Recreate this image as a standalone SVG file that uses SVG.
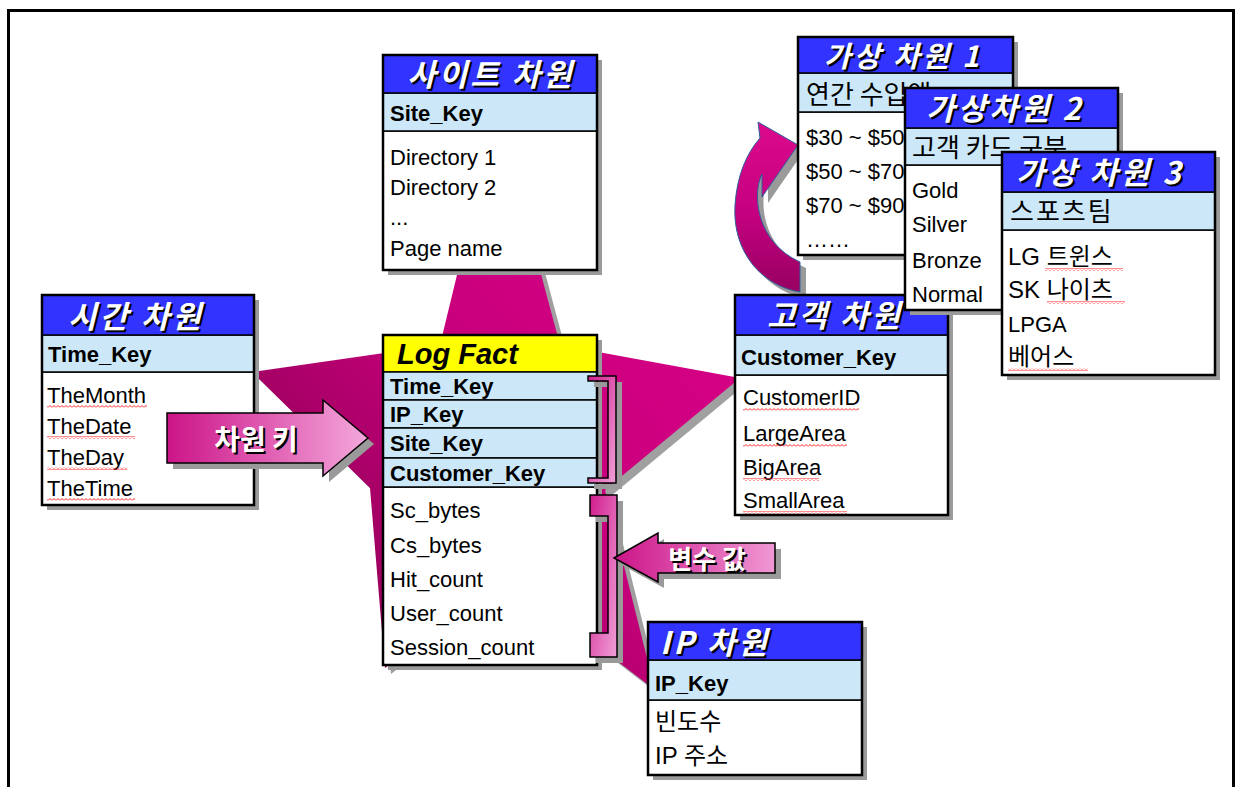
<svg xmlns="http://www.w3.org/2000/svg" width="1239" height="787" viewBox="0 0 1239 787">
<defs>
<style>
.sh{fill:#9a9a9a}
.hdr{fill:#3333ff;stroke:#000;stroke-width:1.5}
.key{fill:#cce8f8;stroke:#000;stroke-width:1.5}
.bd{fill:#fff;stroke:#000;stroke-width:1.5}
.frm{fill:none;stroke:#000;stroke-width:2.5}
.ht{font-family:"Noto Sans CJK KR",sans-serif;font-weight:bold;font-style:italic;font-size:31px;fill:#fff;letter-spacing:3px}
.hs{font-family:"Noto Sans CJK KR",sans-serif;font-weight:bold;font-style:italic;font-size:31px;fill:#000;letter-spacing:3px}
.kt{font-family:"Liberation Sans",Arial,sans-serif;font-weight:bold;font-size:22px;fill:#000}
.kk{font-family:"Noto Sans CJK KR",sans-serif;font-size:26px;fill:#000}
.bt{font-family:"Liberation Sans","Noto Sans CJK KR",Arial,sans-serif;font-size:22px;fill:#000}
.bk{font-family:"Liberation Sans","Noto Sans CJK KR",sans-serif;font-size:24px;fill:#000}
.at{font-family:"Noto Sans CJK KR",sans-serif;font-weight:bold;font-size:28px;fill:#fff}
.as{font-family:"Noto Sans CJK KR",sans-serif;font-weight:bold;font-size:28px;fill:#000}
.wv{fill:url(#wave)}
</style>
<pattern id="wave" x="0" y="0" width="4" height="3" patternUnits="userSpaceOnUse">
<path d="M0 2.5 L2 0.5 L4 2.5" fill="none" stroke="#ff2020" stroke-width="1"/>
</pattern>
<linearGradient id="starG" x1="1" y1="0" x2="0" y2="1">
<stop offset="0" stop-color="#e0008c"/>
<stop offset="0.5" stop-color="#c8007c"/>
<stop offset="1" stop-color="#7a0048"/>
</linearGradient>
<linearGradient id="arrG" x1="0" y1="0" x2="1" y2="0">
<stop offset="0" stop-color="#cc1488"/>
<stop offset="1" stop-color="#f4a8dc"/>
</linearGradient>
<linearGradient id="arrG2" x1="0" y1="0" x2="1" y2="0">
<stop offset="0" stop-color="#cc1488"/>
<stop offset="1" stop-color="#f098d4"/>
</linearGradient>
<linearGradient id="brG" x1="0" y1="0" x2="1" y2="1">
<stop offset="0" stop-color="#d01c8c"/>
<stop offset="1" stop-color="#f0a0d8"/>
</linearGradient>
<linearGradient id="curG" x1="0" y1="0" x2="0" y2="1">
<stop offset="0" stop-color="#dc0a8c"/>
<stop offset="0.55" stop-color="#c40080"/>
<stop offset="1" stop-color="#960060"/>
</linearGradient>
</defs>

<rect x="8.5" y="10.5" width="1225" height="800" fill="#fff" stroke="#000" stroke-width="3"/>

<g id="connectors">
<g id="star">
<polygon points="503,116 566,351 746,384 611,496 661,696 511,581 391,674 376,494 258,378 446,351" fill="#a0a0a0"/>
<polygon points="497,110 560,345 740,378 605,490 655,690 505,575 385,668 370,488 252,372 440,345" fill="url(#starG)"/>
</g>
<g id="curved-arrow">
<path d="M806,298 C768,292 738,258 741,211 C743,182 752,160 766,144 L764,128 L804,151 L768,203 L768,180 C758,200 762,248 806,268 Z" fill="#9a9a9a"/>
<path d="M800,292 C762,286 732,252 735,205 C737,176 746,154 760,138 L758,122 L798,145 L762,197 L762,174 C752,194 756,242 800,262 Z" fill="url(#curG)" stroke="#2f5f9f" stroke-width="1"/>
</g>
</g>

<g id="site-dim">
<rect class="sh" x="388" y="60" width="214" height="215"/>
<rect class="bd" x="383" y="131" width="214" height="139"/>
<rect class="key" x="383" y="93" width="214" height="38"/>
<rect class="hdr" x="383" y="55" width="214" height="38"/>
<text class="hs" x="493" y="88" text-anchor="middle">사이트 차원</text>
<text class="ht" x="491" y="86" text-anchor="middle">사이트 차원</text>
<text class="kt" x="390" y="121">Site_Key</text>
<text class="bt" x="390" y="165">Directory 1</text>
<text class="bt" x="390" y="195">Directory 2</text>
<text class="bt" x="390" y="225">...</text>
<text class="bt" x="390" y="256">Page name</text>
<rect class="frm" x="383" y="55" width="214" height="215"/>
</g>

<g id="time-dim">
<rect class="sh" x="47" y="300" width="212" height="210"/>
<rect class="bd" x="42" y="372" width="212" height="133"/>
<rect class="key" x="42" y="335" width="212" height="37"/>
<rect class="hdr" x="42" y="295" width="212" height="40"/>
<text class="hs" x="138" y="330" text-anchor="middle">시간 차원</text>
<text class="ht" x="136" y="328" text-anchor="middle">시간 차원</text>
<text class="kt" x="48" y="362">Time_Key</text>
<text class="bt" x="47" y="403">TheMonth</text>
<text class="bt" x="47" y="434">TheDate</text>
<text class="bt" x="47" y="465">TheDay</text>
<text class="bt" x="47" y="496">TheTime</text>
<rect class="wv" x="47" y="405" width="100" height="3"/>
<rect class="wv" x="47" y="436" width="88" height="3"/>
<rect class="wv" x="47" y="467" width="80" height="3"/>
<rect class="wv" x="47" y="498" width="88" height="3"/>
<rect class="frm" x="42" y="295" width="212" height="210"/>
</g>

<g id="log-fact">
<rect class="sh" x="388" y="340" width="214" height="330"/>
<rect class="bd" x="383" y="487" width="214" height="178"/>
<rect x="383" y="335" width="214" height="37" fill="#ffff00" stroke="#000" stroke-width="1.5"/>
<rect class="key" x="383" y="372" width="214" height="28"/>
<rect class="key" x="383" y="400" width="214" height="28"/>
<rect class="key" x="383" y="428" width="214" height="30"/>
<rect class="key" x="383" y="458" width="214" height="29"/>
<text x="397" y="364" style="font-family:'Liberation Sans',Arial,sans-serif;font-weight:bold;font-style:italic;font-size:29px;fill:#000">Log Fact</text>
<text class="kt" x="390" y="394">Time_Key</text>
<text class="kt" x="390" y="422">IP_Key</text>
<text class="kt" x="390" y="451">Site_Key</text>
<text class="kt" x="390" y="481">Customer_Key</text>
<text class="bt" x="390" y="518">Sc_bytes</text>
<text class="bt" x="390" y="553">Cs_bytes</text>
<text class="bt" x="390" y="587">Hit_count</text>
<text class="bt" x="390" y="621">User_count</text>
<text class="bt" x="390" y="655">Session_count</text>
<rect class="frm" x="383" y="335" width="214" height="330"/>
</g>

<g id="key-bracket">
<path d="M594,382 L622,382 L622,489 L594,489 L594,484 L614,484 L614,387 L594,387 Z" fill="#9a9a9a"/>
<path d="M588,376 L616,376 L616,483 L588,483 L588,478 L608,478 L608,381 L588,381 Z" fill="url(#brG)" stroke="#000" stroke-width="1.5"/>
</g>
<g id="value-bracket">
<path d="M596,501 L623,501 L623,663 L596,663 L596,639 L614,639 L614,522 L596,522 Z" fill="#9a9a9a"/>
<path d="M590,495 L617,495 L617,657 L590,657 L590,633 L608,633 L608,516 L590,516 Z" fill="url(#brG)" stroke="#000" stroke-width="1.5"/>
</g>

<g id="arrow-dimkey">
<polygon points="173,419 329,419 329,406 374,444 329,482 329,469 173,469" fill="#9a9a9a"/>
<polygon points="167,413 323,413 323,400 368,438 323,476 323,463 167,463" fill="url(#arrG)" stroke="#000" stroke-width="1.5"/>
<text class="as" x="258" y="452" text-anchor="middle">차원 키</text>
<text class="at" x="256" y="450" text-anchor="middle">차원 키</text>
</g>

<g id="arrow-value">
<polygon points="620,564 664,539 664,549 781,549 781,579 664,579 664,588" fill="#9a9a9a"/>
<polygon points="614,558 658,533 658,543 775,543 775,573 658,573 658,582" fill="url(#arrG2)" stroke="#000" stroke-width="1.5"/>
<text class="as" x="709" y="571" text-anchor="middle" style="font-size:26px">변수 값</text>
<text class="at" x="707" y="569" text-anchor="middle" style="font-size:26px">변수 값</text>
</g>

<g id="customer-dim">
<rect class="sh" x="740" y="300" width="213" height="220"/>
<rect class="bd" x="735" y="375" width="213" height="140"/>
<rect class="key" x="735" y="335" width="213" height="40"/>
<rect class="hdr" x="735" y="295" width="213" height="40"/>
<text class="hs" x="837" y="329" text-anchor="middle">고객 차원</text>
<text class="ht" x="835" y="327" text-anchor="middle">고객 차원</text>
<text class="kt" x="741" y="365">Customer_Key</text>
<text class="bt" x="743" y="405">CustomerID</text>
<text class="bt" x="743" y="441">LargeArea</text>
<text class="bt" x="743" y="475">BigArea</text>
<text class="bt" x="743" y="508">SmallArea</text>
<rect class="wv" x="743" y="408" width="116" height="3"/>
<rect class="wv" x="743" y="444" width="104" height="3"/>
<rect class="wv" x="743" y="478" width="76" height="3"/>
<rect class="wv" x="743" y="511" width="104" height="3"/>
<rect class="frm" x="735" y="295" width="213" height="220"/>
</g>

<g id="ip-dim">
<rect class="sh" x="653" y="627" width="214" height="153"/>
<rect class="bd" x="648" y="700" width="214" height="75"/>
<rect class="key" x="648" y="660" width="214" height="40"/>
<rect class="hdr" x="648" y="622" width="214" height="38"/>
<text class="hs" x="662" y="656">IP 차원</text>
<text class="ht" x="660" y="654">IP 차원</text>
<text class="kt" x="655" y="691">IP_Key</text>
<text class="bk" x="655" y="730">빈도수</text>
<text class="bk" x="655" y="764">IP 주소</text>
<rect class="frm" x="648" y="622" width="214" height="153"/>
</g>

<g id="virtual-dim-1">
<rect class="sh" x="803" y="42" width="215" height="218"/>
<rect class="bd" x="798" y="112" width="215" height="143"/>
<rect class="key" x="798" y="73" width="215" height="39"/>
<rect class="hdr" x="798" y="37" width="215" height="36"/>
<text class="hs" x="905" y="69" text-anchor="middle" style="font-size:29px">가상 차원 1</text>
<text class="ht" x="903" y="67" text-anchor="middle" style="font-size:29px">가상 차원 1</text>
<text class="kk" x="806" y="104">연간 수입액</text>
<text class="bt" x="806" y="145">$30 ~ $50</text>
<text class="bt" x="806" y="179">$50 ~ $70</text>
<text class="bt" x="806" y="213">$70 ~ $90</text>
<text class="bt" x="806" y="247">……</text>
<rect class="frm" x="798" y="37" width="215" height="218"/>
</g>

<g id="virtual-dim-2">
<rect class="sh" x="910" y="93" width="213" height="222"/>
<rect class="bd" x="905" y="165" width="213" height="145"/>
<rect class="key" x="905" y="128" width="213" height="37"/>
<rect class="hdr" x="905" y="88" width="213" height="40"/>
<text class="hs" x="1007" y="122" text-anchor="middle">가상차원 2</text>
<text class="ht" x="1005" y="120" text-anchor="middle">가상차원 2</text>
<text class="kk" x="912" y="157">고객 카드 구분</text>
<text class="bt" x="912" y="198">Gold</text>
<text class="bt" x="912" y="232">Silver</text>
<text class="bt" x="912" y="268">Bronze</text>
<text class="bt" x="912" y="302">Normal</text>
<rect class="frm" x="905" y="88" width="213" height="222"/>
</g>

<g id="virtual-dim-3">
<rect class="sh" x="1007" y="157" width="213" height="223"/>
<rect class="bd" x="1002" y="230" width="213" height="145"/>
<rect class="key" x="1002" y="192" width="213" height="38"/>
<rect class="hdr" x="1002" y="152" width="213" height="40"/>
<text class="hs" x="1102" y="186" text-anchor="middle">가상 차원 3</text>
<text class="ht" x="1100" y="184" text-anchor="middle">가상 차원 3</text>
<text class="kk" x="1010" y="221" style="letter-spacing:2px">스포츠팀</text>
<text class="bk" x="1008" y="265">LG 트윈스</text>
<text class="bk" x="1008" y="298">SK 나이츠</text>
<text class="bt" x="1008" y="332">LPGA</text>
<text class="bk" x="1008" y="365">베어스</text>
<rect class="wv" x="1045" y="268" width="78" height="3"/>
<rect class="wv" x="1047" y="301" width="78" height="3"/>
<rect class="wv" x="1008" y="368" width="80" height="3"/>
<rect class="frm" x="1002" y="152" width="213" height="223"/>
</g>
</svg>
